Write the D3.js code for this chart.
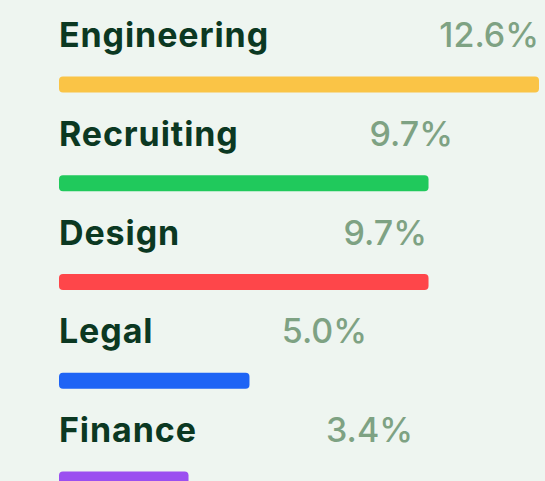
<!DOCTYPE html>
<html><head><meta charset="utf-8">
<script src="https://cdn.jsdelivr.net/npm/d3@7"></script>
<style>html,body{margin:0;padding:0;background:#eef5f0;overflow:hidden}</style>
</head><body><svg id="c" width="545" height="481"></svg>
<script>
const categories = ["Engineering","Recruiting","Design","Legal","Finance"];
const values = [12.6, 9.7, 9.7, 5.0, 3.4];
const valueLabels = ["12.6%","9.7%","9.7%","5.0%","3.4%"];
const colors = ["#fac446","#20c95c","#fe464a","#1e64f5","#9b4ff0"];

// layout (not data): right edge of each value label
const valueLabelRight = [539, 453, 427, 367, 413];

const svg = d3.select("#c");
const x = d3.scaleLinear().domain([0, 12.6]).range([59, 539]);
const y = d3.scaleBand().domain(categories).range([0, 5*98.75]).paddingInner(0);

const g = svg.selectAll("g.row").data(categories).join("g").attr("class","row")
  .attr("transform", d => `translate(0,${y(d)})`);

g.append("text").attr("x", 59).attr("y", 47)
  .attr("font-family","Inter, 'Noto Sans', sans-serif").attr("font-weight",700)
  .attr("font-size",34).attr("letter-spacing","0.9px").attr("fill","#0b3822").text(d => d);

g.append("text").attr("x", (d,i) => valueLabelRight[i]).attr("y", 47)
  .attr("text-anchor","end")
  .attr("font-family","Inter, 'Noto Sans', sans-serif").attr("font-weight",500)
  .attr("font-size",34).attr("fill","#7ea283").text((d,i) => valueLabels[i]);

g.append("rect").attr("x", x(0)).attr("y", 76.5)
  .attr("width", (d,i) => x(values[i]) - x(0)).attr("height", 16)
  .attr("rx", 4).attr("fill", (d,i) => colors[i]);
</script></body></html>
